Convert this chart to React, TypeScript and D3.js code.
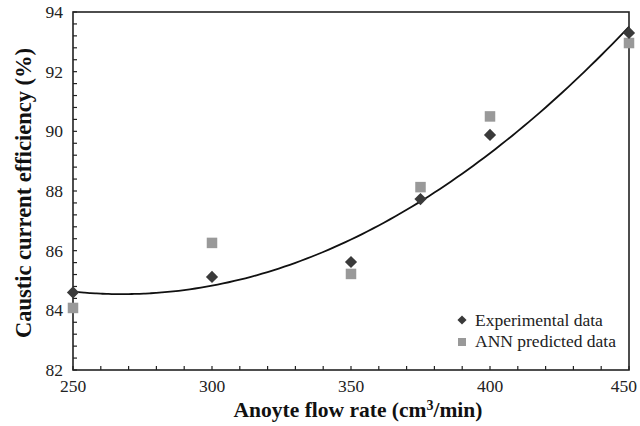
import React from "react";
import * as d3 from "d3";

const flowRates = [250, 300, 350, 375, 400, 450];
const experimental = [84.6, 85.12, 85.62, 87.73, 89.88, 93.3];
const annPredicted = [84.08, 86.26, 85.22, 88.13, 90.5, 92.96];
const xTicks = [250, 300, 350, 400, 450];
const yTicks = [82, 84, 86, 88, 90, 92, 94];

const W = 640, H = 426;
const M = { left: 73, right: 11, top: 12, bottom: 56 };

function quadFit(xs: number[], ys: number[]) {
  // least-squares quadratic trendline
  const n = xs.length;
  const S = (f: (i: number) => number) => d3.sum(d3.range(n), f);
  const sx = S(i => xs[i]), sx2 = S(i => xs[i] ** 2), sx3 = S(i => xs[i] ** 3), sx4 = S(i => xs[i] ** 4);
  const sy = S(i => ys[i]), sxy = S(i => xs[i] * ys[i]), sx2y = S(i => xs[i] ** 2 * ys[i]);
  const A = [[n, sx, sx2, sy], [sx, sx2, sx3, sxy], [sx2, sx3, sx4, sx2y]];
  for (let c = 0; c < 3; c++) {
    for (let r = c + 1; r < 3; r++) {
      const f = A[r][c] / A[c][c];
      for (let k = c; k < 4; k++) A[r][k] -= f * A[c][k];
    }
  }
  const coef = [0, 0, 0];
  for (let r = 2; r >= 0; r--) {
    let s = A[r][3];
    for (let k = r + 1; k < 3; k++) s -= A[r][k] * coef[k];
    coef[r] = s / A[r][r];
  }
  return (x: number) => coef[0] + coef[1] * x + coef[2] * x * x;
}

export default function App() {
  const x = d3.scaleLinear().domain([250, 450]).range([M.left, W - M.right]);
  const y = d3.scaleLinear().domain([82, 94]).range([H - M.bottom, M.top]);
  const fit = quadFit(flowRates.map(v => v - 350), experimental);
  const curvePts = d3.range(250, 450.01, 2).map(v => [v, fit(v - 350)] as [number, number]);
  const line = d3.line<[number, number]>().x(d => x(d[0])).y(d => y(d[1])).curve(d3.curveMonotoneX);
  const xMinor = d3.range(250, 451, 10);
  const yMinor = d3.range(0, 31).map(i => 82 + i * 0.4);
  const font = "Liberation Serif";
  const diamond = d3.symbol().type(d3.symbolDiamond2).size(95)();
  const sq = 10.5;
  const x0 = M.left, x1 = W - M.right, yb = H - M.bottom, yt = M.top;
  const ts = { fontFamily: font };
  return (
    <svg width={W} height={H} style={{ position: "absolute", left: 0, top: 0, background: "#fff", fontFamily: font }}>
      <rect x={0} y={0} width={W} height={H} fill="#fff" />
      {xMinor.map(v => (
        <line key={"xm" + v} x1={x(v)} x2={x(v)} y1={yb} y2={yb - 4} stroke="#222" strokeWidth={1.2} />
      ))}
      {yMinor.map((v, i) => (
        <line key={"ym" + i} x1={x0} x2={x0 + 4} y1={y(v)} y2={y(v)} stroke="#222" strokeWidth={1.2} />
      ))}
      <rect x={x0} y={yt} width={x1 - x0} height={yb - yt} fill="none" stroke="#222" strokeWidth={1.6} />
      {xTicks.map((v, i) => {
        const last = i === xTicks.length - 1;
        return (
          <text key={"xt" + v} x={last ? W - 3 : x(v)} y={yb + 22} textAnchor={last ? "end" : "middle"} fontSize={17.5} fill="#222" style={ts}>{v}</text>
        );
      })}
      {yTicks.map(v => (
        <text key={"yt" + v} x={x0 - 10} y={y(v) + 6} textAnchor="end" fontSize={17.5} fill="#222" style={ts}>{v}</text>
      ))}
      <path d={line(curvePts) || ""} fill="none" stroke="#111" strokeWidth={1.8} />
      {flowRates.map((v, i) => (
        <rect key={"sq" + i} x={x(v) - sq / 2} y={y(annPredicted[i]) - sq / 2} width={sq} height={sq} fill="#999" />
      ))}
      {flowRates.map((v, i) => (
        <path key={"dm" + i} d={diamond || ""} transform={`translate(${x(v)},${y(experimental[i])})`} fill="#3a3a3a" />
      ))}
      <path d={diamond || ""} transform="translate(462,320) scale(0.75)" fill="#3a3a3a" />
      <text x={475} y={326} fontSize={17.5} fill="#222" style={ts}>Experimental data</text>
      <rect x={458} y={338} width={8} height={8} fill="#999" />
      <text x={475} y={347} fontSize={17.5} fill="#222" style={ts}>ANN predicted data</text>
      <text x={(x0 + x1) / 2 + 7} y={417} textAnchor="middle" fontSize={21.5} fontWeight="bold" fill="#111" style={ts}>
        Anoyte flow rate (cm<tspan dy={-7} fontSize={14}>3</tspan><tspan dy={7}>/min)</tspan>
      </text>
      <text transform={`translate(31,${(yt + yb) / 2 + 2}) rotate(-90)`} textAnchor="middle" fontSize={22.5} fontWeight="bold" fill="#111" style={ts}>
        Caustic current efficiency (%)
      </text>
    </svg>
  );
}
